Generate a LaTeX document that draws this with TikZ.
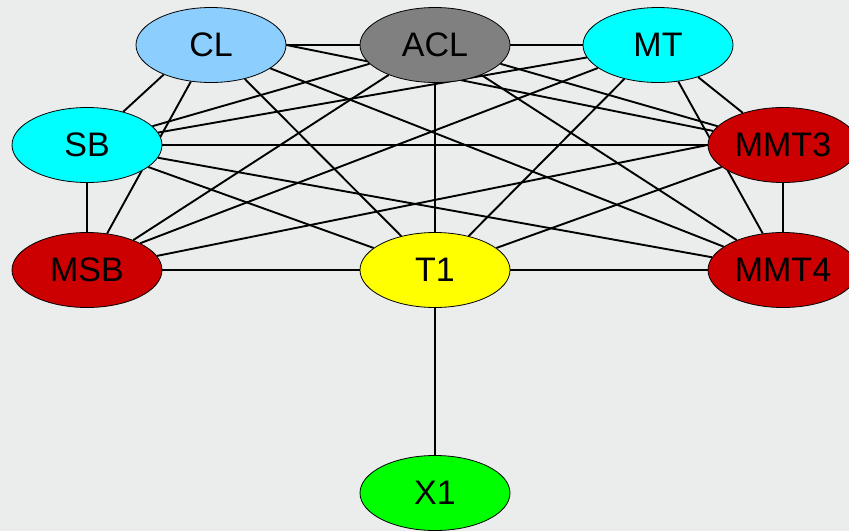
\documentclass[tikz,border=0pt]{standalone}
\usepackage{fontspec}
\setmainfont{Liberation Sans}
\usetikzlibrary{shapes.geometric}

% layers: paper at the back, then the links, then the ellipses
\pgfdeclarelayer{paper}
\pgfdeclarelayer{links}
\pgfsetlayers{paper,links,main}

\definecolor{paperbg}{HTML}{EBEDED}
\definecolor{clblue}{HTML}{8CCFFF}
\definecolor{aclgray}{HTML}{808080}
\definecolor{mtcyan}{HTML}{00FFFF}
\definecolor{mred}{HTML}{CC0000}
\definecolor{tyellow}{HTML}{FFFF00}
\definecolor{xgreen}{HTML}{00FF00}

\begin{document}
\begin{tikzpicture}[x=1pt,y=-1pt,
  blob/.style={ellipse, draw=black, line width=0.8pt,
    minimum width=150pt, minimum height=75pt, inner sep=0pt,
    font=\fontsize{34}{40}\selectfont},
  link/.style={draw=black, line width=1.9pt}]

\begin{pgfonlayer}{paper}
  \fill[paperbg] (0,0) rectangle (849,531);
\end{pgfonlayer}
\useasboundingbox (0,0) rectangle (849,531);

% modules
\node[blob, fill=clblue]  (CL)   at (211,45)  {CL};
\node[blob, fill=aclgray] (ACL)  at (435,45)  {ACL};
\node[blob, fill=mtcyan]  (MT)   at (658,45)  {MT};
\node[blob, fill=mtcyan]  (SB)   at (87,145)  {SB};
\node[blob, fill=mred]    (MMT3) at (783,145) {MMT3};
\node[blob, fill=mred]    (MSB)  at (87,270)  {MSB};
\node[blob, fill=tyellow] (T1)   at (435,270) {T1};
\node[blob, fill=mred]    (MMT4) at (783,270) {MMT4};
\node[blob, fill=xgreen]  (X1)   at (435,493) {X1};

% connections
\begin{pgfonlayer}{links}
  \draw[link] (CL) -- (ACL);
  \draw[link] (CL.east) -- (MMT3);
  \draw[link] (CL) -- (MMT4);
  \draw[link] (CL) -- (T1);
  \draw[link] (CL) -- (MSB);
  \draw[link] (SB) -- (CL.212);
  \draw[link] (SB) -- (ACL);
  \draw[link] (SB) -- (MT);
  \draw[link] (SB) -- (MMT3);
  \draw[link] (SB) -- (MMT4);
  \draw[link] (SB) -- (T1);
  \draw[link] (SB) -- (MSB);
  \draw[link] (ACL) -- (MT);
  \draw[link] (ACL) -- (MMT3);
  \draw[link] (ACL) -- (MMT4);
  \draw[link] (ACL) -- (T1);
  \draw[link] (ACL) -- (MSB);
  \draw[link] (MT) -- (MMT3);
  \draw[link] (MT) -- (MMT4);
  \draw[link] (MT) -- (T1);
  \draw[link] (MT) -- (MSB.north east);
  \draw[link] (MSB) -- (MMT3.west);
  \draw[link] (MSB) -- (T1);
  \draw[link] (T1) -- (MMT3);
  \draw[link] (T1) -- (MMT4);
  \draw[link] (MMT3) -- (MMT4);
  \draw[link] (T1) -- (X1);
\end{pgfonlayer}
\end{tikzpicture}
\end{document}
